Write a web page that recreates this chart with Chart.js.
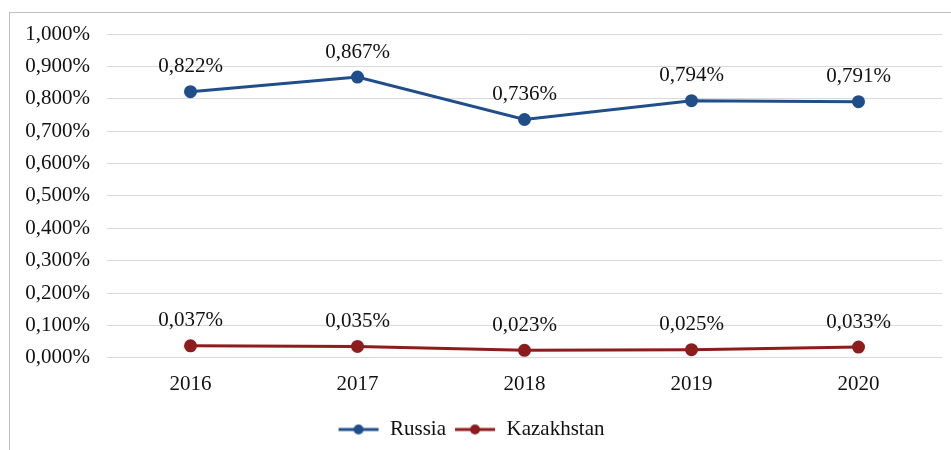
<!DOCTYPE html>
<html><head><meta charset="utf-8">
<script src="https://cdn.jsdelivr.net/npm/chart.js@4/dist/chart.umd.min.js"></script>
<style>
html,body{margin:0;padding:0;background:#fff;width:951px;height:450px;overflow:hidden;}
#frame{position:absolute;left:9px;top:12px;width:960px;height:460px;border:1px solid #bfbfbf;}
#wrap{position:absolute;left:0;top:0;width:951px;height:450px;}
</style></head>
<body>
<div id="frame"></div>
<div id="wrap"><canvas id="c" width="951" height="450"></canvas></div>
<script>
const years = ['2016','2017','2018','2019','2020'];
const russia = [0.822, 0.867, 0.736, 0.794, 0.791];
const kazakhstan = [0.037, 0.035, 0.023, 0.025, 0.033];
const seriesNames = ['Russia','Kazakhstan'];
const colors = ['#1f4e8a','#8e1c1c'];
const FONT = '"Liberation Serif", "Times New Roman", serif';

function fmt(v){ return v.toFixed(3).replace('.', ',') + '%'; }

function legendIcon(color){
  const cv = document.createElement('canvas');
  cv.width = 42; cv.height = 12;
  const g = cv.getContext('2d');
  g.strokeStyle = color; g.lineWidth = 3;
  g.beginPath(); g.moveTo(1,6); g.lineTo(41,6); g.stroke();
  g.fillStyle = color;
  g.beginPath(); g.arc(21,6,5,0,Math.PI*2); g.fill();
  return cv;
}
const icons = colors.map(legendIcon);

const labelPlugin = {
  id: 'valueLabels',
  afterDatasetsDraw(chart){
    const ctx = chart.ctx;
    ctx.save();
    ctx.font = '21px ' + FONT;
    ctx.fillStyle = '#111';
    ctx.textAlign = 'center';
    ctx.textBaseline = 'middle';
    chart.data.datasets.forEach((ds, i) => {
      const meta = chart.getDatasetMeta(i);
      meta.data.forEach((pt, j) => {
        ctx.fillText(fmt(ds.data[j]), pt.x, pt.y - 25);
      });
    });
    ctx.restore();
  }
};

new Chart(document.getElementById('c'), {
  type: 'line',
  data: {
    labels: years,
    datasets: [
      {label: seriesNames[0], data: russia, borderColor: colors[0], backgroundColor: colors[0], borderWidth: 3, pointRadius: 5, pointHoverRadius: 5, pointStyle: 'circle', tension: 0},
      {label: seriesNames[1], data: kazakhstan, borderColor: colors[1], backgroundColor: colors[1], borderWidth: 3, pointRadius: 5, pointHoverRadius: 5, pointStyle: 'circle', tension: 0}
    ]
  },
  options: {
    responsive: false,
    animation: false,
    devicePixelRatio: 1,
    layout: {padding: {left: 0, right: 9, top: 34, bottom: 0}},
    plugins: {
      tooltip: {enabled: false},
      legend: {
        position: 'bottom',
        labels: {
          usePointStyle: true,
          pointStyleWidth: 42,
          padding: 8,
          color: '#111',
          font: {family: FONT, size: 21},
          generateLabels(chart){
            return chart.data.datasets.map((ds, i) => ({
              text: ds.label, pointStyle: icons[i], fillStyle: colors[i], strokeStyle: colors[i],
              lineWidth: 0, hidden: false, datasetIndex: i, fontColor: '#111'
            }));
          }
        }
      }
    },
    scales: {
      x: {
        offset: true,
        grid: {display: false, drawTicks: false},
        border: {display: false},
        ticks: {padding: 14, color: '#111', font: {family: FONT, size: 21}}
      },
      y: {
        min: 0, max: 1,
        grid: {color: '#d9d9d9', lineWidth: 1, drawTicks: false},
        border: {display: false},
        afterFit(s){ s.width = 107; },
        ticks: {stepSize: 0.1, padding: 17, color: '#111', font: {family: FONT, size: 21},
          callback: v => fmt(v)}
      }
    }
  },
  plugins: [labelPlugin]
});
</script>
</body></html>
